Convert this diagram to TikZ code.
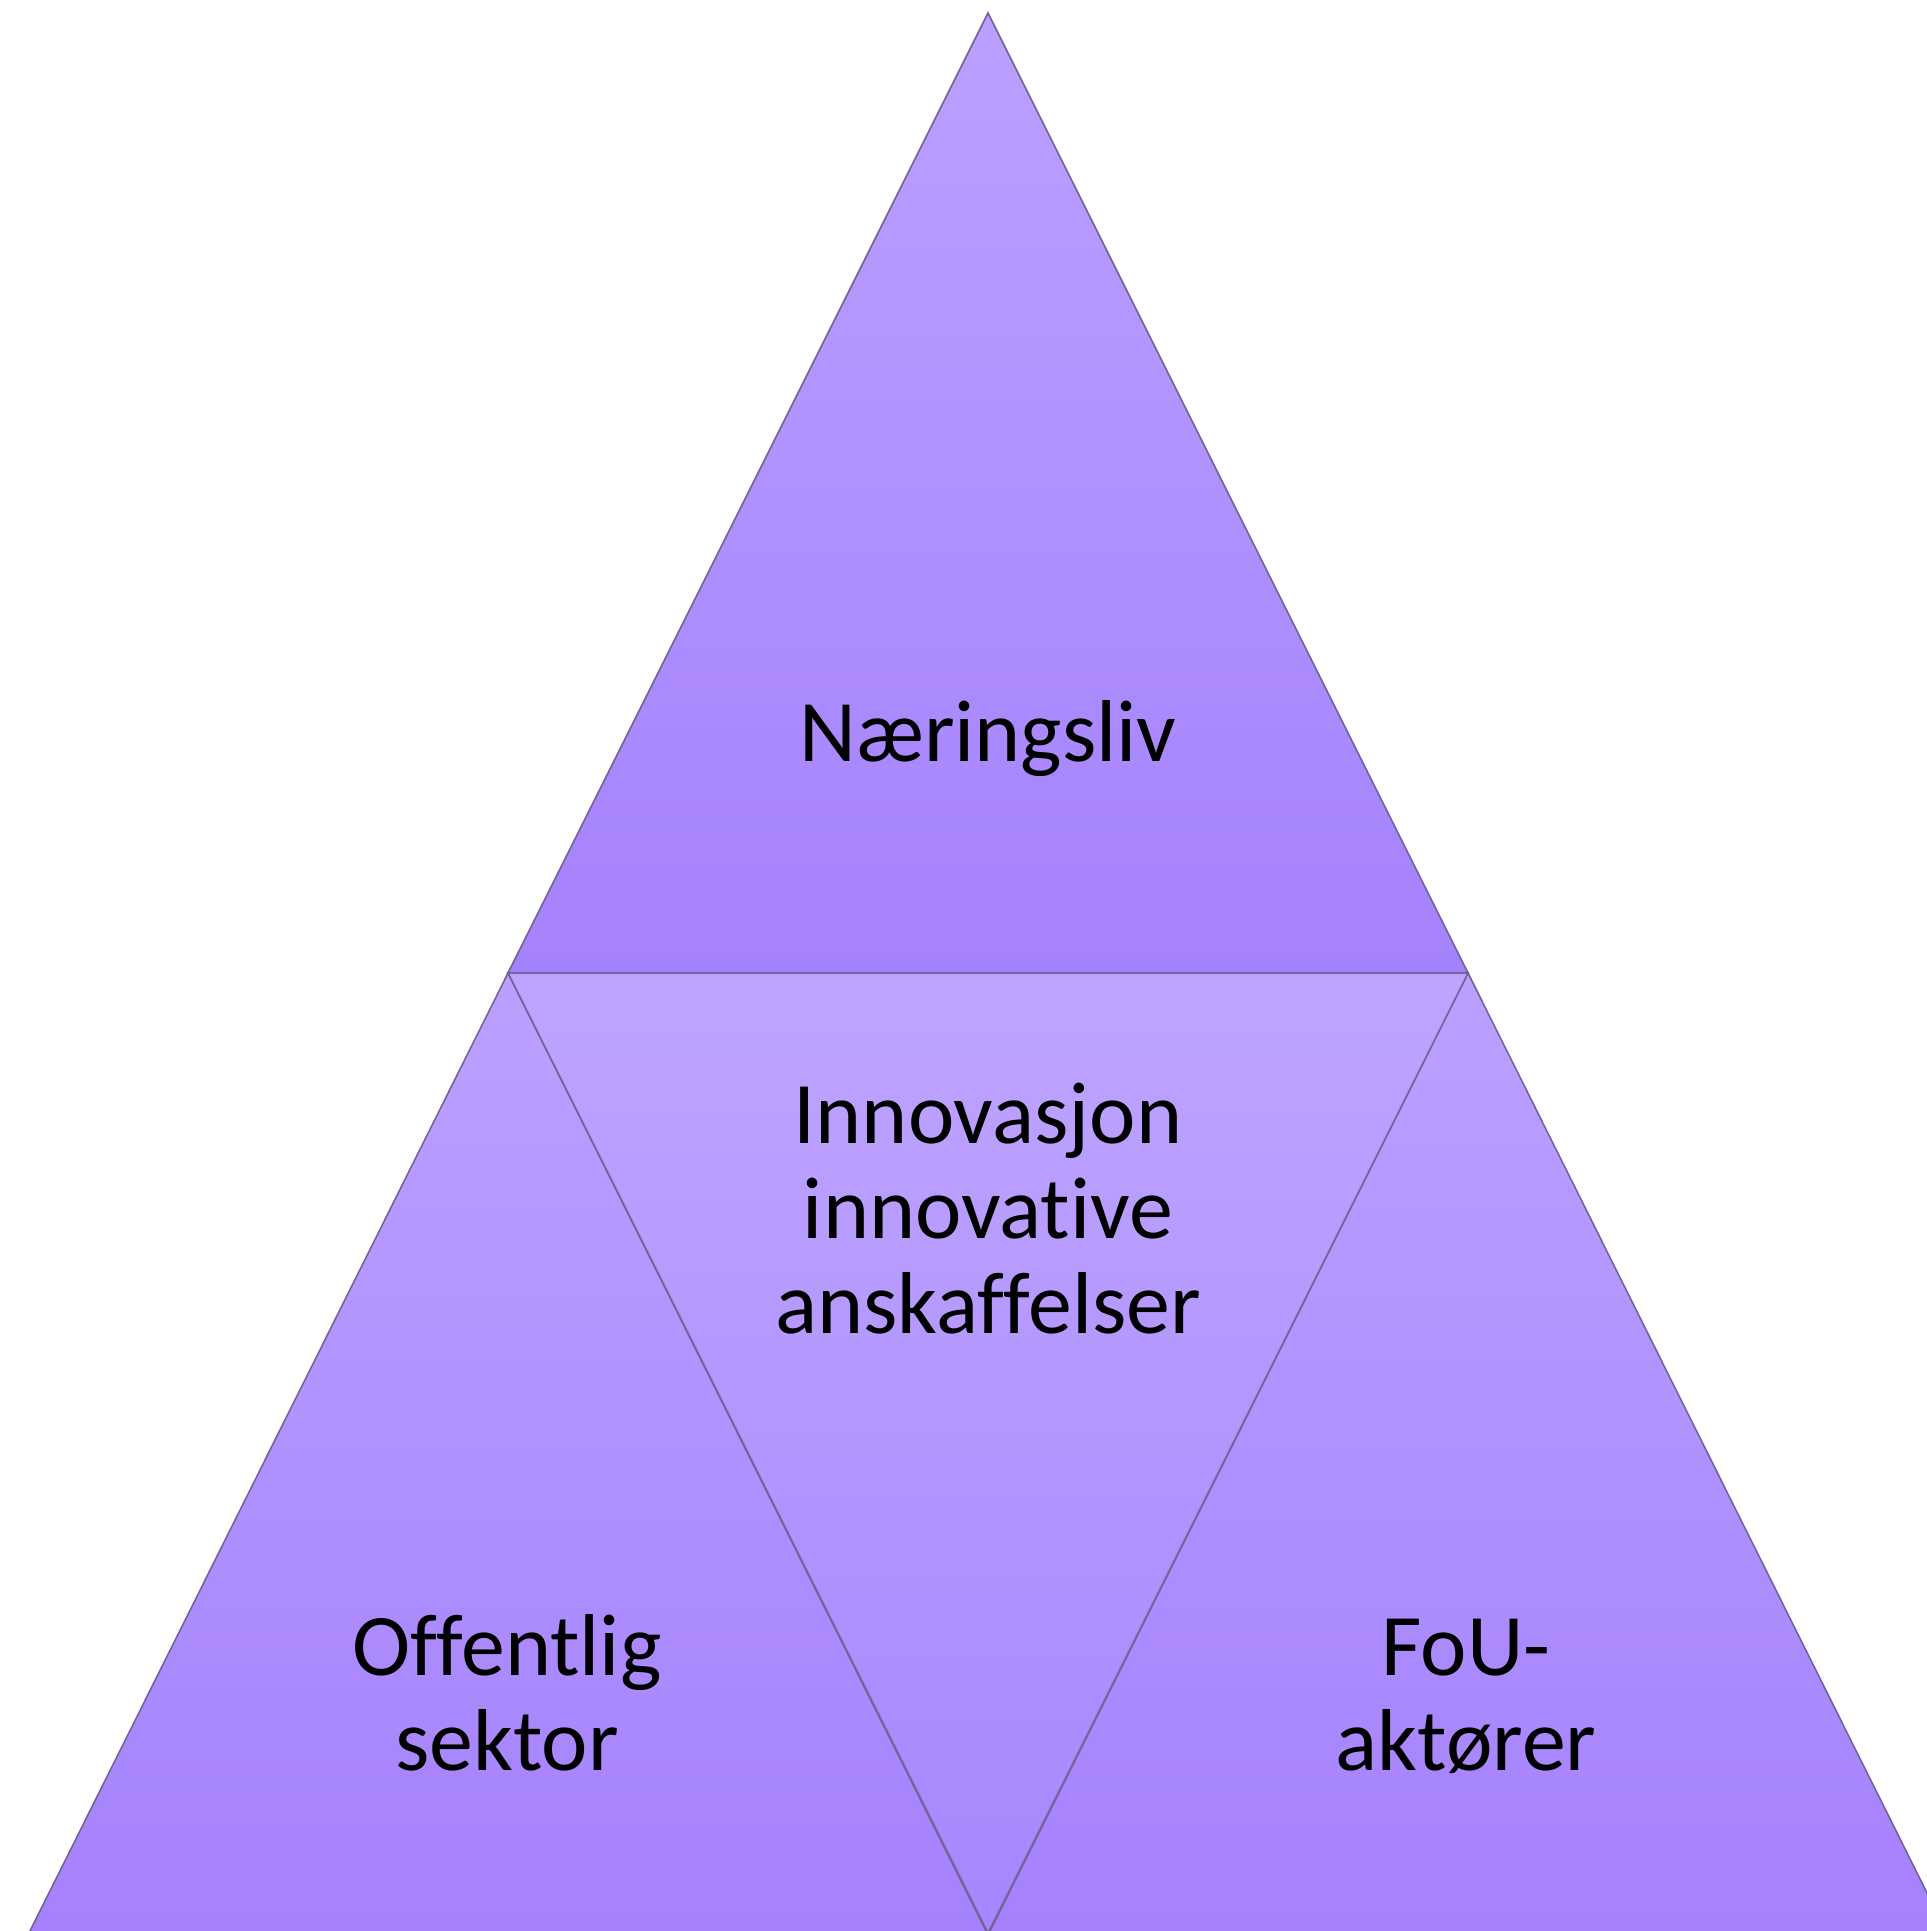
\documentclass[tikz,border=0pt]{standalone}
\usepackage{fontspec}
\setmainfont[Ligatures={NoCommon}]{Carlito}
\definecolor{triTop}{RGB}{187,160,255}
\definecolor{triBot}{RGB}{165,129,253}
\definecolor{midTop}{RGB}{190,164,255}
\definecolor{midBot}{RGB}{167,134,253}
\definecolor{edge}{RGB}{115,100,155}
\tikzset{
  tri/.style={top color=triTop, bottom color=triBot, draw=edge, line width=0.08cm, line join=miter},
  midtri/.style={top color=midTop, bottom color=midBot, draw=edge, line width=0.08cm},
  lbl/.style={anchor=base, inner sep=0pt, font=\fontsize{125}{136}\selectfont, text=black}
}
\begin{document}
\begin{tikzpicture}[x=0.05cm, y=-0.05cm]
\useasboundingbox (0,0) rectangle (1927,1931);
\clip (0,0) rectangle (1927,1931);
% bottom-left triangle
\shade[tri] (508,973) -- (28,1935) -- (988,1935) -- cycle;
% bottom-right triangle
\shade[tri] (1468,973) -- (988,1935) -- (1948,1935) -- cycle;
% top triangle
\shade[tri] (988,13) -- (508,973) -- (1468,973) -- cycle;
% inner inverted triangle
\shade[midtri] (508,973) -- (1468,973) -- (988,1933) -- cycle;
% labels
\node[lbl] (top) at (988,761) {Næringsliv};
\node[lbl] (mid1) at (988,1143) {Innovasjon};
\node[lbl] (mid2) at (988,1238) {innovative};
\node[lbl] (mid3) at (988,1333) {anskaffelser};
\node[lbl] (left1) at (507,1675) {Offentlig};
\node[lbl] (left2) at (507,1770) {sektor};
\node[lbl] (right1) at (1466,1675) {FoU-};
\node[lbl] (right2) at (1466,1770) {aktører};
\end{tikzpicture}
\end{document}
